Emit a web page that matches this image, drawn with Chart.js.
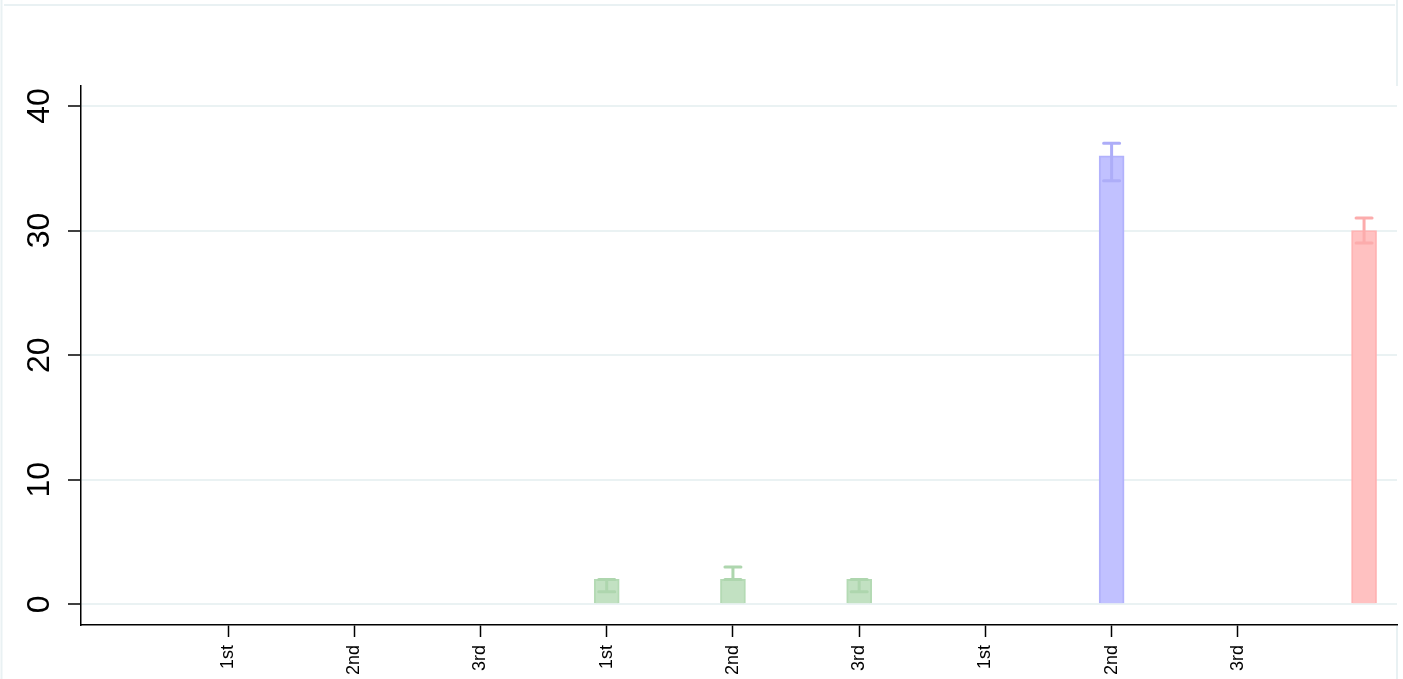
<!DOCTYPE html>
<html>
<head>
<meta charset="utf-8">
<script src="https://cdn.jsdelivr.net/npm/chart.js@4"></script>
<style>
  html, body { margin: 0; padding: 0; background: #fff; }
  #wrap { width: 1403px; height: 679px; }
</style>
</head>
<body>
<div id="wrap"><canvas id="chart"></canvas></div>
<script>
// tick labels on the x axis, one per position 1..9 (position 10 has none)
var tickPositions = [1, 2, 3, 4, 5, 6, 7, 8, 9];
var tickLabels = ['1st', '2nd', '3rd', '1st', '2nd', '3rd', '1st', '2nd', '3rd'];
var yTicks = [0, 10, 20, 30, 40];

// green series
var greenX = [4, 5, 6];
var greenY = [2, 2, 2];
var greenLo = [1, 2, 1];
var greenHi = [2, 3, 2];

// blue series
var blueX = [8];
var blueY = [36];
var blueLo = [34];
var blueHi = [37];

// red series
var redX = [10];
var redY = [30];
var redLo = [29];
var redHi = [31];

var FONT = '"Liberation Sans", Arial, sans-serif';
var FRAME = '#e9f1f3';

function points(xs, ys) {
    var out = [];
    for (var i = 0; i < xs.length; i++) out.push({ x: xs[i], y: ys[i] });
    return out;
}

// light frame around the graph region
var framePlugin = {
    id: 'frame',
    beforeDraw: function (chart) {
        var ctx = chart.ctx;
        ctx.save();
        ctx.strokeStyle = FRAME;
        ctx.lineWidth = 2;
        ctx.beginPath();
        ctx.moveTo(4, 5); ctx.lineTo(1395, 5);
        ctx.moveTo(1.5, 0); ctx.lineTo(1.5, 679);
        ctx.moveTo(1397, 0); ctx.lineTo(1397, 86);
        ctx.moveTo(1397, 626); ctx.lineTo(1397, 679);
        ctx.stroke();
        ctx.restore();
    }
};

// error bars drawn from the dataset's lo/hi arrays
var errorBarPlugin = {
    id: 'errorBars',
    afterDatasetsDraw: function (chart) {
        var ctx = chart.ctx;
        var xs = chart.scales.x, ys = chart.scales.y;
        ctx.save();
        chart.data.datasets.forEach(function (ds) {
            ctx.strokeStyle = ds.errorColor;
            ctx.lineWidth = 3;
            ctx.lineCap = 'round';
            for (var i = 0; i < ds.data.length; i++) {
                var px = xs.getPixelForValue(ds.data[i].x);
                var lo = ys.getPixelForValue(ds.lo[i]);
                var hi = ys.getPixelForValue(ds.hi[i]);
                ctx.beginPath();
                ctx.moveTo(px, lo); ctx.lineTo(px, hi);
                ctx.moveTo(px - 8, lo); ctx.lineTo(px + 8, lo);
                ctx.moveTo(px - 8, hi); ctx.lineTo(px + 8, hi);
                ctx.stroke();
            }
        });
        ctx.restore();
    }
};

var ctx = document.getElementById('chart').getContext('2d');
new Chart(ctx, {
    type: 'bar',
    data: {
        datasets: [{
            data: points(greenX, greenY),
            lo: greenLo, hi: greenHi,
            backgroundColor: '#c2e1c2',
            borderColor: '#b4dab4',
            errorColor: '#aed6ae',
            borderWidth: 2
        }, {
            data: points(blueX, blueY),
            lo: blueLo, hi: blueHi,
            backgroundColor: '#c1c1ff',
            borderColor: '#b2b2fc',
            errorColor: '#adadf8',
            borderWidth: 2
        }, {
            data: points(redX, redY),
            lo: redLo, hi: redHi,
            backgroundColor: '#ffc1c1',
            borderColor: '#ffb3b3',
            errorColor: '#fcacac',
            borderWidth: 2
        }]
    },
    options: {
        responsive: true,
        maintainAspectRatio: false,
        animation: false,
        barThickness: 25,
        grouped: false,
        layout: { padding: { top: 86, right: 6, left: 0, bottom: 0 } },
        plugins: {
            legend: { display: false },
            tooltip: { enabled: false }
        },
        scales: {
            x: {
                type: 'linear',
                offset: false,
                min: -0.165,
                max: 10.261,
                afterBuildTicks: function (s) {
                    s.ticks = tickPositions.map(function (v) { return { value: v }; });
                },
                afterFit: function (s) { s.height = 54; },
                border: { display: true, color: '#000', width: 1.5 },
                grid: { offset: false, drawOnChartArea: false, drawTicks: true, tickColor: '#000', tickLength: 12, tickWidth: 1.5 },
                ticks: {
                    autoSkip: false,
                    minRotation: 90,
                    maxRotation: 90,
                    padding: 8,
                    color: '#000',
                    font: { family: FONT, size: 18 },
                    callback: function (v, i) { return tickLabels[i]; }
                }
            },
            y: {
                type: 'linear',
                min: -1.66,
                max: 41.6,
                afterBuildTicks: function (s) {
                    s.ticks = yTicks.map(function (v) { return { value: v }; });
                },
                afterFit: function (s) { s.width = 81; },
                border: { display: true, color: '#000', width: 1.5 },
                grid: { color: '#eaf2f3', lineWidth: 2, tickColor: '#000', tickLength: 13, tickWidth: 1.5 },
                ticks: {
                    minRotation: 90,
                    maxRotation: 90,
                    crossAlign: 'center',
                    padding: 10,
                    color: '#000',
                    font: { family: FONT, size: 32 }
                }
            }
        }
    },
    plugins: [framePlugin, errorBarPlugin]
});
</script>
</body>
</html>
